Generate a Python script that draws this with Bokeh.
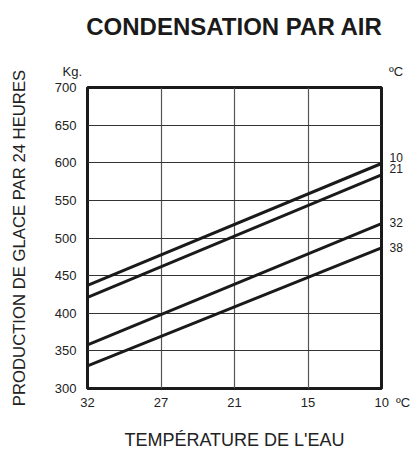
from bokeh.plotting import figure
from bokeh.models import Range1d, FixedTicker, LinearAxis, Title
from bokeh.embed import file_html
from bokeh.resources import INLINE

# ---- data ----
x_tick_labels = ["32", "27", "21", "15", "10"]          # water temperature (°C)
y_ticks = [300, 350, 400, 450, 500, 550, 600, 650, 700]  # kg / 24 h
series_names = ["10", "21", "32", "38"]                  # air temperature (°C)
start_values = [437, 421, 358, 330]                      # at water 32 °C
end_values = [599, 584, 519, 487]                        # at water 10 °C
title_text = "CONDENSATION PAR AIR"
y_title = "PRODUCTION DE GLACE PAR 24 HEURES"
x_title = "TEMPÉRATURE DE L'EAU"
unit_y = "Kg."
unit_x = "ºC"

FONT = "Liberation Sans"
NB = "\u00a0"
W, H = 414, 455
BL, BR, BT, BB = 87, 33, 87, 67
fh = H - BT - BB
x0, x1 = 0, len(x_tick_labels) - 1
y0, y1 = y_ticks[0], y_ticks[-1]
px_y = fh / (y1 - y0)

p = figure(width=W, height=H, output_backend="svg", toolbar_location=None,
           x_range=Range1d(x0, x1), y_range=Range1d(y0, y1),
           min_border_left=BL, min_border_right=BR,
           min_border_top=BT, min_border_bottom=BB, title=None)
p.background_fill_color = "white"
p.border_fill_color = "white"
p.outline_line_color = "#1a1a1a"
p.outline_line_width = 3

# axes
p.xaxis.ticker = FixedTicker(ticks=list(range(len(x_tick_labels))))
overrides = {i: t for i, t in enumerate(x_tick_labels)}
last = len(x_tick_labels) - 1
overrides[last] = NB * 6 + x_tick_labels[last] + NB * 2 + unit_x
p.xaxis.major_label_overrides = overrides
p.yaxis.ticker = FixedTicker(ticks=y_ticks)
for ax in (p.xaxis[0], p.yaxis[0]):
    ax.axis_line_color = None
    ax.major_tick_line_color = None
    ax.minor_tick_line_color = None
    ax.major_tick_out = 0
    ax.major_tick_in = 0
    ax.major_label_text_font = FONT
    ax.major_label_text_font_size = "13px"
    ax.major_label_text_color = "#222222"
    ax.axis_label_text_font = FONT
    ax.axis_label_text_font_style = "normal"
    ax.axis_label_text_color = "#222222"
p.xaxis.major_label_standoff = 6
p.yaxis.major_label_standoff = 11
p.xaxis.axis_label = x_title
p.xaxis.axis_label_text_font_size = "18px"
p.xaxis.axis_label_standoff = 17
p.yaxis.axis_label = y_title
p.yaxis.axis_label_text_font_size = "16.7px"
p.yaxis.axis_label_standoff = 23

# grid
p.xgrid.ticker = FixedTicker(ticks=list(range(len(x_tick_labels))))
p.ygrid.ticker = FixedTicker(ticks=y_ticks)
p.xgrid.grid_line_color = "#555555"
p.ygrid.grid_line_color = "#333333"
p.xgrid.grid_line_width = 1.2
p.ygrid.grid_line_width = 1

# series lines
xs = [x_tick_labels.index("32"), x_tick_labels.index("10")]
for name, a, b in zip(series_names, start_values, end_values):
    p.line(xs, [a, b], line_color="#1a1a1a", line_width=3)

# series labels on a right axis, at the right end of each line
label_shift_px = [6, 6, 1, 0]
label_pos = [int(round(b + s / px_y)) for b, s in zip(end_values, label_shift_px)]
rax = LinearAxis(ticker=FixedTicker(ticks=label_pos),
                 major_label_overrides={v: n for v, n in zip(label_pos, series_names)},
                 axis_line_color=None, major_tick_line_color=None,
                 minor_tick_line_color=None, major_tick_out=0, major_tick_in=0,
                 major_label_standoff=8, major_label_text_font=FONT,
                 major_label_text_font_size="12px",
                 major_label_text_color="#222222")
p.add_layout(rax, "right")

# units row above the frame, then the main title
units_row = unit_y + NB * 85 + unit_x
p.add_layout(Title(text=units_row, align="left", offset=-25, standoff=18,
                   text_font=FONT, text_font_size="13px",
                   text_font_style="normal", text_color="#222222"), "above")
p.add_layout(Title(text=title_text, align="center", standoff=22,
                   vertical_align="top",
                   text_font=FONT, text_font_size="24px",
                   text_font_style="bold", text_color="#1a1a1a"), "above")

open("out.html", "w").write(file_html(p, INLINE))
